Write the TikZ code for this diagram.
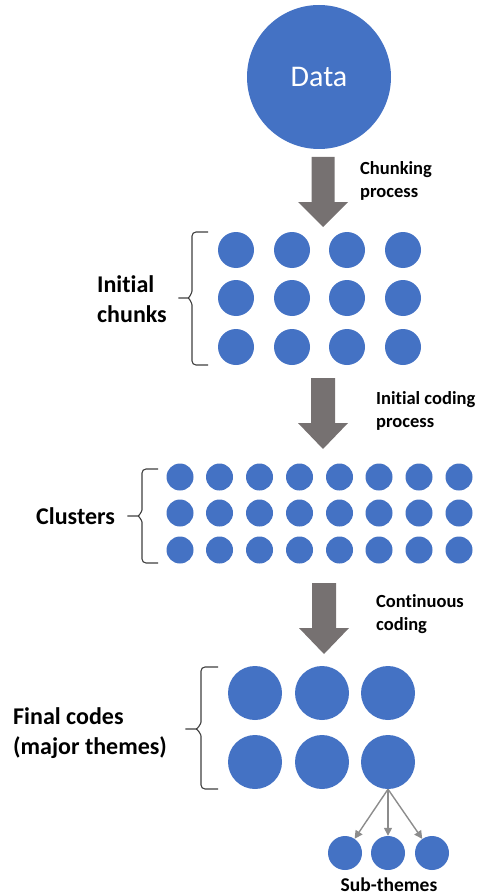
\documentclass[tikz,border=0pt]{standalone}
\usepackage{fontspec}
\setmainfont{Carlito}[Ligatures={NoCommon}]
\usetikzlibrary{arrows.meta}
\definecolor{dotblue}{HTML}{4472C4}
\definecolor{flowgray}{HTML}{767171}
\definecolor{thingray}{HTML}{8C8C8C}
\definecolor{bracegray}{HTML}{3F3F3F}
\tikzset{
  dot/.style={circle, fill=dotblue, draw=none, inner sep=0pt, minimum size=#1},
  bigarrow/.style={fill=flowgray, draw=none},
  steplabel/.style={anchor=west, align=left, inner sep=0pt, font=\bfseries\fontsize{18.5}{23}\selectfont},
  grouplabel/.style={anchor=west, align=left, inner sep=0pt, font=\bfseries\fontsize{24}{30}\selectfont},
  braceline/.style={draw=bracegray, line width=1.1pt, rounded corners=4pt},
  subarrow/.style={draw=thingray, line width=1.4pt, -{Triangle[length=8pt,width=8pt]}},
}
\begin{document}
\begin{tikzpicture}[x=1pt, y=-1pt]
\useasboundingbox (0,0) rectangle (478,896);

% source
\node[dot=144pt] (data) at (319,77) {};
\node[text=white, font=\fontsize{30}{32}\selectfont] (datalabel) at (319,77) {Data};

% process arrows
\fill[bigarrow] (311.5,157) -- (334.5,157) -- (334.5,202) -- (348,202) -- (323,227) -- (298,202) -- (311.5,202) -- cycle;
\fill[bigarrow] (311,378) -- (335,378) -- (335,423) -- (348,423) -- (323,449) -- (298,423) -- (311,423) -- cycle;
\fill[bigarrow] (312,583) -- (336,583) -- (336,628) -- (349,628) -- (324,654) -- (299,628) -- (312,628) -- cycle;

\node[steplabel] (lab1) at (360,181) {Chunking\\process};
\node[steplabel] (lab2) at (376,411) {Initial coding\\process};
\node[steplabel] (lab3) at (376,614) {Continuous\\coding};

% initial chunks: 3 x 4
\foreach \r/\y in {1/250, 2/298, 3/347}
  \foreach \c/\x in {1/236, 2/292, 3/347, 4/403}
    \node[dot=36pt] (ch\r\c) at (\x,\y) {};

% clusters: 3 x 8
\foreach \r/\y in {1/477, 2/513, 3/550}
  \foreach \c/\x in {1/180, 2/219.5, 3/259.5, 4/299.5, 5/339.5, 6/379, 7/419, 8/459}
    \node[dot=27pt] (cl\r\c) at (\x,\y) {};

% final codes: 2 x 3
\node[dot=54pt] (f1) at (255,693) {};
\node[dot=54pt] (f2) at (322,693) {};
\node[dot=54pt] (f3) at (388,693) {};
\node[dot=54pt] (f4) at (255,762) {};
\node[dot=54pt] (f5) at (322,762) {};
\node[dot=54pt] (f6) at (388,762) {};

% sub-themes
\node[dot=34pt] (s1) at (345,853) {};
\node[dot=34pt] (s2) at (388,853) {};
\node[dot=34pt] (s3) at (432,853) {};
\draw[subarrow] (f6.south) -- (s1);
\draw[subarrow] (f6.south) -- (s2);
\draw[subarrow] (f6.south) -- (s3);
\node[font=\bfseries\fontsize{19.5}{22}\selectfont, inner sep=0pt] (sublab) at (389,884.5) {Sub-themes};

% braces
\draw[braceline] (208,232) -- (192,232) -- (192,287) to[out=-90,in=0] (184,298) -- (176,298) -- (184,298) to[out=0,in=90] (192,309) -- (192,365) -- (208,365);
\draw[braceline] (158,469) -- (142,469) -- (142,506) to[out=-90,in=0] (134,516) -- (125,516) -- (134,516) to[out=0,in=90] (142,526) -- (142,563) -- (158,563);
\draw[braceline] (218,667) -- (201,667) -- (201,718) to[out=-90,in=0] (192,729) -- (183,729) -- (192,729) to[out=0,in=90] (201,740) -- (201,789) -- (218,789);

\node[grouplabel] (g1) at (97,299) {Initial\\chunks};
\node[grouplabel] (g2) at (36,516) {Clusters};
\node[grouplabel] (g3) at (13,733) {Final codes\\(major themes)};
\end{tikzpicture}
\end{document}
